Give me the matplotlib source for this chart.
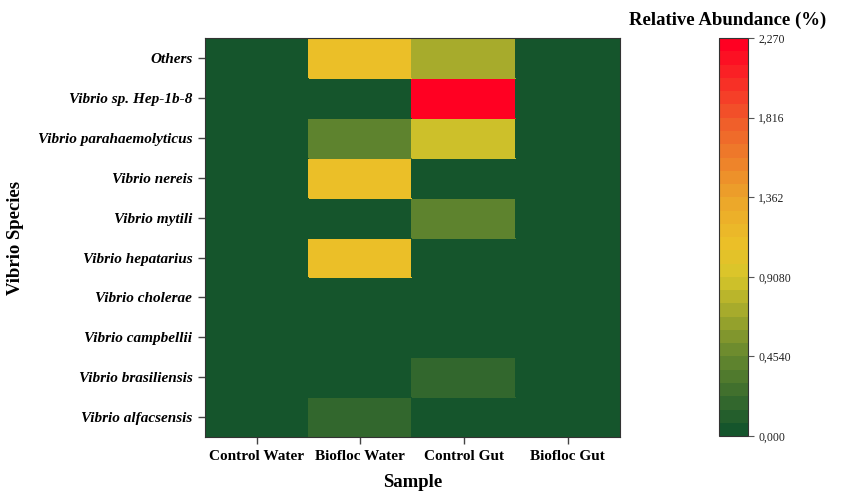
import matplotlib
matplotlib.use("Agg")
import matplotlib.pyplot as plt
import numpy as np
from matplotlib.colors import LinearSegmentedColormap, BoundaryNorm
from matplotlib.ticker import FixedFormatter, NullLocator

plt.rcParams["font.family"] = ["Liberation Serif", "DejaVu Serif"]

samples = ["Control Water", "Biofloc Water", "Control Gut", "Biofloc Gut"]
species = ["Others", "Vibrio sp. Hep-1b-8", "Vibrio parahaemolyticus", "Vibrio nereis",
           "Vibrio mytili", "Vibrio hepatarius", "Vibrio cholerae", "Vibrio campbellii",
           "Vibrio brasiliensis", "Vibrio alfacsensis"]

# relative abundance (%), rows follow `species`, columns follow `samples`
abundance = np.array([
    [0.0, 1.12, 0.72, 0.0],
    [0.0, 0.0, 2.27, 0.0],
    [0.0, 0.38, 0.90, 0.0],
    [0.0, 1.12, 0.0, 0.0],
    [0.0, 0.0, 0.38, 0.0],
    [0.0, 1.12, 0.0, 0.0],
    [0.0, 0.0, 0.0, 0.0],
    [0.0, 0.0, 0.0, 0.0],
    [0.0, 0.0, 0.18, 0.0],
    [0.0, 0.18, 0.0, 0.0],
])

vmax = 2.27
cbar_ticks = [0.0, 0.454, 0.908, 1.362, 1.816, 2.27]
cbar_labels = ["0,000", "0,4540", "0,9080", "1,362", "1,816", "2,270"]
n_levels = 30

cmap = LinearSegmentedColormap.from_list("gyr", [
    (0.0, "#15552c"),
    (0.2, "#6a8a2e"),
    (0.4, "#d8c62a"),
    (0.48, "#ebc028"),
    (0.6, "#eca52a"),
    (0.8, "#f05c2a"),
    (1.0, "#ff0022"),
], N=n_levels)
bounds = np.linspace(0, vmax, n_levels + 1)
norm = BoundaryNorm(bounds, cmap.N)

fig = plt.figure(figsize=(8.43, 4.95), dpi=100)
ax = fig.add_axes([0.243, 0.117, 0.492, 0.806])
cax = fig.add_axes([0.853, 0.119, 0.034, 0.804])

# top row of the table is drawn at the top
data = abundance[::-1]
mesh = ax.pcolormesh(np.arange(len(samples) + 1), np.arange(len(species) + 1), data,
                     cmap=cmap, norm=norm, edgecolor="face", linewidth=0.3)

ax.set_xticks(np.arange(len(samples)) + 0.5)
ax.set_xticklabels(samples, fontsize=11, fontweight="bold")
ax.set_yticks(np.arange(len(species)) + 0.5)
ax.set_yticklabels(species[::-1], fontsize=11, fontweight="bold", fontstyle="italic")
ax.tick_params(length=5, width=1, color="#444444", pad=4)
for s in ax.spines.values():
    s.set_color("#333333")
    s.set_linewidth(0.8)
ax.set_xlabel("Sample", fontsize=13.5, fontweight="bold", labelpad=8)
ax.set_ylabel("Vibrio Species", fontsize=13.5, fontweight="bold", labelpad=10)

cb = fig.colorbar(mesh, cax=cax)
cb.ax.set_ylim(0, vmax)
cb.ax.yaxis.set_minor_locator(NullLocator())
cb.set_ticks(cbar_ticks)
cb.ax.yaxis.set_major_formatter(FixedFormatter(cbar_labels))
cb.ax.tick_params(labelsize=8.5, length=4, width=0.8, color="#555555", labelcolor="#222222")
cb.outline.set_edgecolor("#333333")
cb.outline.set_linewidth(0.8)
fig.text(0.863, 0.958, "Relative Abundance (%)", ha="center", va="center",
         fontsize=13.5, fontweight="bold")

fig.savefig("out.png", dpi=100)
